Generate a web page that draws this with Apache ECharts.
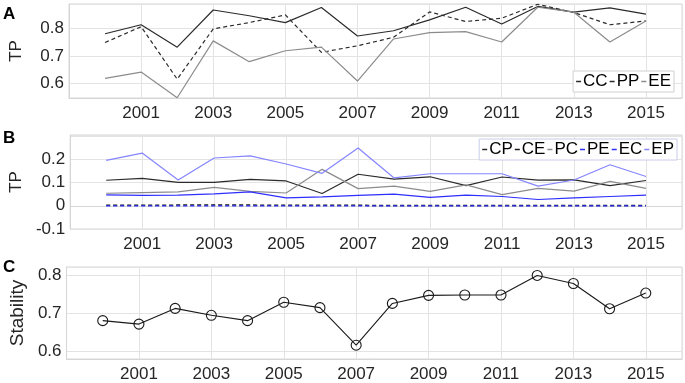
<!DOCTYPE html>
<html>
<head>
<meta charset="utf-8">
<script src="https://cdn.jsdelivr.net/npm/echarts@6/dist/echarts.min.js"></script>
<style>
  html, body { margin: 0; padding: 0; background: #fff; }
  #main { width: 685px; height: 383px; }
</style>
</head>
<body>
<div id="main"></div>
<script>
var years = [2000, 2001, 2002, 2003, 2004, 2005, 2006, 2007, 2008, 2009, 2010, 2011, 2012, 2013, 2014, 2015];

// panel A
var CC = [0.781, 0.814, 0.732, 0.868, 0.847, 0.822, 0.877, 0.773, 0.792, 0.832, 0.878, 0.817, 0.881, 0.860, 0.876, 0.853];
var PP = [0.749, 0.807, 0.615, 0.799, 0.822, 0.850, 0.713, 0.737, 0.768, 0.861, 0.826, 0.838, 0.889, 0.859, 0.814, 0.828];
var EE = [0.618, 0.641, 0.547, 0.755, 0.679, 0.719, 0.732, 0.608, 0.762, 0.785, 0.789, 0.751, 0.878, 0.860, 0.751, 0.828];

// panel B
var CP = [0.110, 0.118, 0.101, 0.101, 0.114, 0.107, 0.053, 0.136, 0.115, 0.125, 0.087, 0.124, 0.111, 0.112, 0.087, 0.109];
var CE = [0.002, 0.002, 0.003, 0.003, 0.003, 0.002, 0.002, 0.002, 0.001, 0.001, 0.001, 0.001, 0.001, 0.001, 0.001, 0.001];
var PC = [0.054, 0.057, 0.060, 0.079, 0.062, 0.055, 0.157, 0.074, 0.085, 0.062, 0.090, 0.048, 0.075, 0.063, 0.105, 0.075];
var PE = [0.047, 0.045, 0.046, 0.051, 0.060, 0.034, 0.038, 0.045, 0.050, 0.036, 0.046, 0.040, 0.027, 0.034, 0.040, 0.046];
var EC = [0, 0, 0, 0, 0, 0, 0, 0, 0, 0, 0, 0, 0, 0, 0, 0];
var EP = [0.196, 0.227, 0.111, 0.206, 0.215, 0.180, 0.140, 0.249, 0.120, 0.138, 0.138, 0.138, 0.085, 0.111, 0.177, 0.126];

// panel C
var stability = [0.681, 0.672, 0.713, 0.695, 0.681, 0.729, 0.715, 0.617, 0.726, 0.747, 0.748, 0.748, 0.799, 0.778, 0.712, 0.753];

var font = 'Liberation Sans, Arial, Helvetica, sans-serif';
var textColor = '#262626';
var gridColor = '#e3e3e3';

function pairs(vals) {
  var out = [];
  for (var i = 0; i < years.length; i++) {
    out.push([years[i], vals[i]]);
  }
  return out;
}

function onTenth(v) {
  return Math.abs(v * 10 - Math.round(v * 10)) < 1e-6;
}

function makeX(idx) {
  return {
    type: 'value',
    gridIndex: idx,
    min: 1999,
    max: 2016,
    interval: 2,
    axisLine: { show: true, lineStyle: { color: '#d6d6d6' } },
    axisTick: { show: false },
    axisLabel: {
      color: textColor, fontFamily: font, fontSize: 17, margin: 7,
      formatter: function (v) { return (v == 1999 || v == 2016) ? '' : String(v); }
    },
    splitLine: { show: true, lineStyle: { color: gridColor } }
  };
}

function makeY(idx, min, max, name, gap, nameSize) {
  return {
    type: 'value',
    gridIndex: idx,
    min: min,
    max: max,
    splitNumber: 3,
    name: name,
    nameLocation: 'middle',
    nameGap: gap,
    nameTextStyle: { color: textColor, fontFamily: font, fontSize: nameSize },
    axisLine: { show: true, lineStyle: { color: '#d6d6d6' } },
    axisTick: { show: false },
    axisLabel: {
      color: textColor, fontFamily: font, fontSize: 17, margin: 5,
      formatter: function (v) {
        if (!onTenth(v) || v > max - 0.01 || v < min - 1e-9) return '';
        return String(Math.round(v * 10) / 10);
      }
    },
    splitLine: { show: true, lineStyle: { color: gridColor } }
  };
}

function line(name, vals, color, x, dashed, width) {
  return {
    name: name,
    type: 'line',
    xAxisIndex: x,
    yAxisIndex: x,
    data: pairs(vals),
    symbol: 'none',
    lineStyle: { color: color, width: width || 1.2, type: dashed ? [4, 3] : 'solid' },
    itemStyle: { color: color }
  };
}

var myChart = echarts.init(document.getElementById('main'));

var letterStyle = { fontFamily: font, fontSize: 17, fontWeight: 'bold', color: '#000' };

var option = {
  backgroundColor: '#fff',
  animation: false,
  title: [
    { text: 'A', left: 3, top: 6, padding: 0, textStyle: letterStyle },
    { text: 'B', left: 3, top: 130, padding: 0, textStyle: letterStyle },
    { text: 'C', left: 3, top: 259, padding: 0, textStyle: letterStyle }
  ],
  grid: [
    { left: 66, top: 4, width: 617, height: 94, show: true, borderColor: '#d6d6d6', borderWidth: 1 },
    { left: 66, top: 135, width: 617, height: 94, show: true, borderColor: '#d6d6d6', borderWidth: 1 },
    { left: 66, top: 267, width: 617, height: 93, show: true, borderColor: '#d6d6d6', borderWidth: 1 }
  ],
  legend: [
    {
      data: ['CC', 'PP', 'EE'],
      right: 11, top: 71,
      icon: 'rect', itemWidth: 5, itemHeight: 1.5, itemGap: 2,
      padding: [2, 3],
      backgroundColor: '#fff', borderColor: '#d0d0d0', borderWidth: 1,
      textStyle: { fontFamily: font, fontSize: 17, color: '#000', padding: [0, 0, 0, -3] }
    },
    {
      data: ['CP', 'CE', 'PC', 'PE', 'EC', 'EP'],
      right: 8, top: 139,
      icon: 'rect', itemWidth: 5, itemHeight: 1.5, itemGap: 2,
      padding: [2, 3],
      backgroundColor: '#fff', borderColor: '#c8cce8', borderWidth: 1,
      textStyle: { fontFamily: font, fontSize: 17, color: '#000', padding: [0, 0, 0, -3] }
    }
  ],
  xAxis: [makeX(0), makeX(1), makeX(2)],
  yAxis: [
    makeY(0, 0.546, 0.89, 'TP', 44, 17),
    makeY(1, -0.1, 0.305, 'TP', 40, 17),
    makeY(2, 0.581, 0.821, 'Stability', 38, 19)
  ],
  series: [
    line('CC', CC, '#2b2b2b', 0, false),
    line('PP', PP, '#2b2b2b', 0, true),
    line('EE', EE, '#8c8c8c', 0, false),

    line('CP', CP, '#2b2b2b', 1, false),
    line('CE', CE, '#1a1a1a', 1, true, 1.5),
    line('PC', PC, '#8c8c8c', 1, false),
    line('PE', PE, '#2e2eff', 1, false),
    line('EC', EC, '#2e2eff', 1, true),
    line('EP', EP, '#8585ff', 1, false),

    {
      name: 'Stability',
      type: 'line',
      xAxisIndex: 2,
      yAxisIndex: 2,
      data: pairs(stability),
      symbol: 'circle',
      symbolSize: 10,
      showAllSymbol: true,
      lineStyle: { color: '#1a1a1a', width: 1.1 },
      itemStyle: { color: 'transparent', borderColor: '#1a1a1a', borderWidth: 1.1 }
    }
  ]
};
myChart.setOption(option);
window.onresize = myChart.resize;
</script>
</body>
</html>
